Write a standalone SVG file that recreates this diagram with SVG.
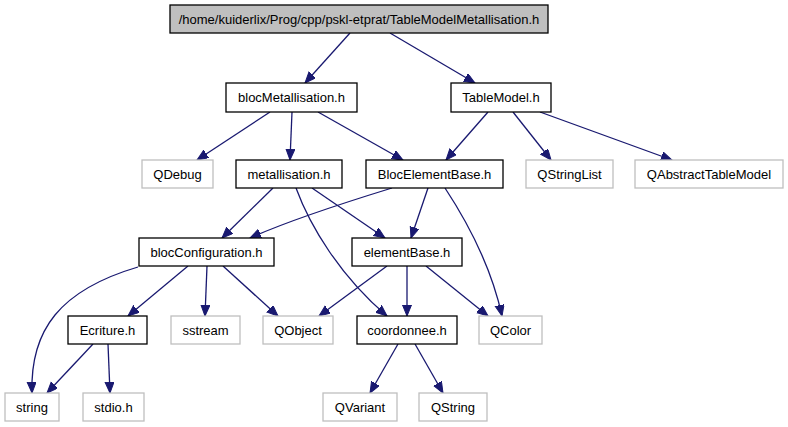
<svg xmlns="http://www.w3.org/2000/svg" width="788" height="427" viewBox="0 0 788 427">
<style>
  .n rect { fill: #ffffff; stroke: #000000; stroke-width: 1.3; }
  .g rect { fill: #ffffff; stroke: #bfbfbf; stroke-width: 1.3; }
  .top rect { fill: #bfbfbf; stroke: #000000; stroke-width: 1.3; }
  text { font-family: "Liberation Sans", Arial, sans-serif; font-size: 13px; fill: #000000; text-anchor: middle; }
  .e path { fill: none; stroke: #191970; stroke-width: 1.3; marker-end: url(#ah); }
</style>
<defs>
  <marker id="ah" markerUnits="userSpaceOnUse" markerWidth="12" markerHeight="10" refX="11" refY="4.5" orient="auto">
    <path d="M0,0 L11,4.5 L0,9 z" fill="#191970" stroke="#191970" stroke-width="1"/>
  </marker>
</defs>
<rect x="0" y="0" width="788" height="427" fill="#ffffff"/>
<g id="edges" class="e">
  <path d="M350,33 L305,83"/>
  <path d="M390,33 L475,83"/>
  <path d="M270,112 L197,160"/>
  <path d="M292,112 L290,160"/>
  <path d="M318,112 L403,160"/>
  <path d="M488,112 L446,160"/>
  <path d="M513,112 L551,160"/>
  <path d="M540,112 L672,160"/>
  <path d="M273,188 L222,238"/>
  <path d="M312,188 L385,238"/>
  <path d="M296,188 C310,226 340,276 387,316"/>
  <path d="M392,188 C340,204 290,220 250,238"/>
  <path d="M428,188 L411,238"/>
  <path d="M445,188 C470,226 492,270 502,316"/>
  <path d="M138,267 C60,290 30,330 32,393"/>
  <path d="M188,266 L128,316"/>
  <path d="M207,266 L205,316"/>
  <path d="M223,266 L278,316"/>
  <path d="M387,266 L319,316"/>
  <path d="M407,266 L407,316"/>
  <path d="M426,266 L488,316"/>
  <path d="M93,344 L47,393"/>
  <path d="M108,344 L110,393"/>
  <path d="M398,344 L370,393"/>
  <path d="M415,344 L443,393"/>
</g>
<g id="TableModelMetallisation" class="top"><rect x="170" y="5" width="378" height="28"/><text x="359" y="23.5">/home/kuiderlix/Prog/cpp/pskl-etprat/TableModelMetallisation.h</text></g>
<g id="blocMetallisation" class="n"><rect x="226" y="83" width="131" height="29"/><text x="291.5" y="102">blocMetallisation.h</text></g>
<g id="TableModel" class="n"><rect x="451" y="83" width="100" height="29"/><text x="501" y="102">TableModel.h</text></g>
<g id="QDebug" class="g"><rect x="142" y="160" width="71" height="28"/><text x="177.5" y="178.5">QDebug</text></g>
<g id="metallisation" class="n"><rect x="236" y="160" width="106" height="28"/><text x="289" y="178.5">metallisation.h</text></g>
<g id="BlocElementBase" class="n"><rect x="366" y="160" width="137" height="28"/><text x="434.5" y="178.5">BlocElementBase.h</text></g>
<g id="QStringList" class="g"><rect x="526" y="160" width="87" height="28"/><text x="569.5" y="178.5">QStringList</text></g>
<g id="QAbstractTableModel" class="g"><rect x="635" y="160" width="148" height="28"/><text x="709" y="178.5">QAbstractTableModel</text></g>
<g id="blocConfiguration" class="n"><rect x="139" y="238" width="135" height="28"/><text x="206.5" y="256.5">blocConfiguration.h</text></g>
<g id="elementBase" class="n"><rect x="352" y="238" width="110" height="28"/><text x="407" y="256.5">elementBase.h</text></g>
<g id="Ecriture" class="n"><rect x="68" y="316" width="79" height="28"/><text x="107.5" y="334.5">Ecriture.h</text></g>
<g id="sstream" class="g"><rect x="171" y="316" width="69" height="28"/><text x="205.5" y="334.5">sstream</text></g>
<g id="QObject" class="g"><rect x="263" y="316" width="70" height="28"/><text x="298" y="334.5">QObject</text></g>
<g id="coordonnee" class="n"><rect x="357" y="316" width="100" height="28"/><text x="407" y="334.5">coordonnee.h</text></g>
<g id="QColor" class="g"><rect x="479" y="316" width="63" height="28"/><text x="510.5" y="334.5">QColor</text></g>
<g id="string" class="g"><rect x="5" y="393" width="54" height="28"/><text x="32" y="411.5">string</text></g>
<g id="stdio" class="g"><rect x="83" y="393" width="61" height="28"/><text x="113.5" y="411.5">stdio.h</text></g>
<g id="QVariant" class="g"><rect x="323" y="393" width="74" height="28"/><text x="360" y="411.5">QVariant</text></g>
<g id="QString" class="g"><rect x="419" y="393" width="68" height="28"/><text x="453" y="411.5">QString</text></g>
</svg>
